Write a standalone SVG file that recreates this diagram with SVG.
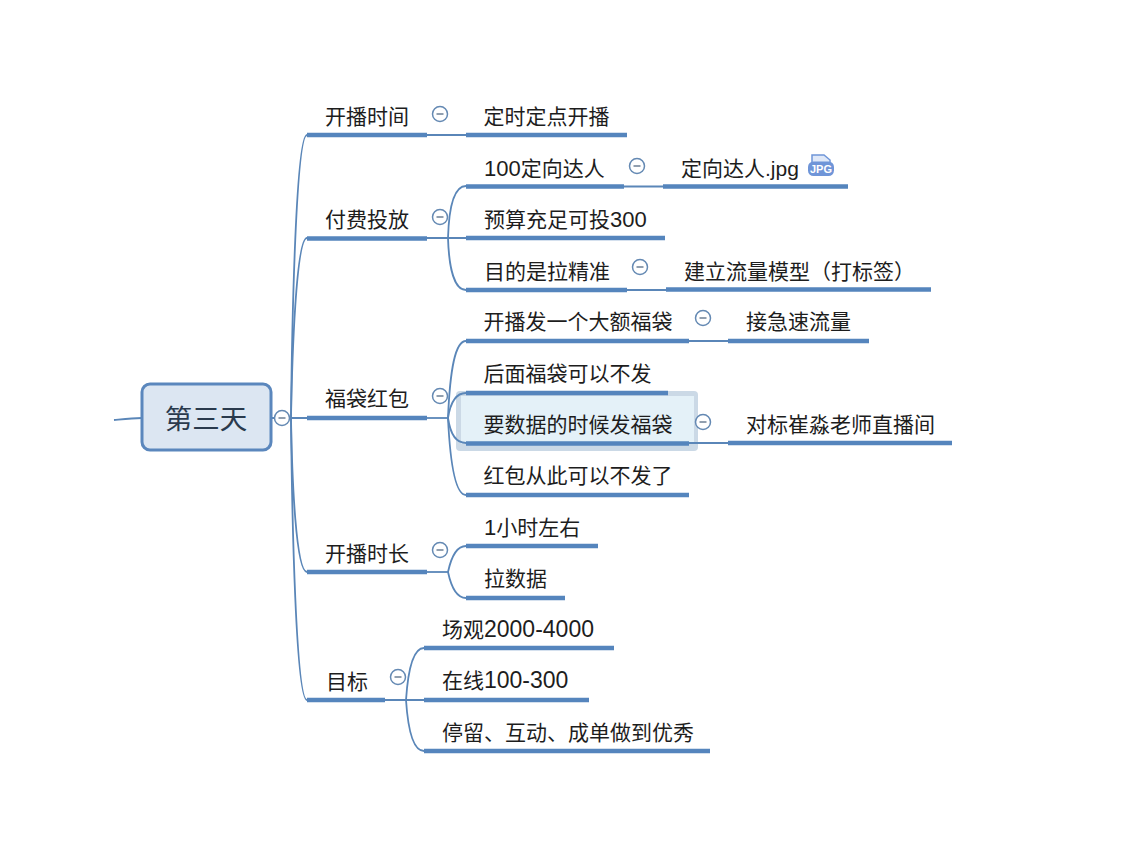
<svg xmlns="http://www.w3.org/2000/svg" width="1142" height="845" viewBox="0 0 1142 845">
<style>
text{font-family:"Liberation Sans","Noto Sans CJK SC",sans-serif;font-size:21px;fill:#1d1d1d}
.bar{stroke:#5585bd;stroke-width:4.500;fill:none}
.link{stroke:#5a86b8;stroke-width:1.800;fill:none}
.fold circle{fill:#fff;stroke:#6489b3;stroke-width:1.500}
.fold path{stroke:#6d7f94;stroke-width:1.500;fill:none}
.num{font-size:22px}
.wide{font-size:23px}
</style>
<defs>
<g id="fold" class="fold"><circle r="7.500"/><path d="M-3.500 0H3.500"/></g>
</defs>
<rect width="1142" height="845" fill="#fff"/>
<g id="selection">
<rect x="456" y="391" width="242" height="60" rx="4" fill="#cbd9e6"/>
<rect x="461" y="396" width="233" height="48" fill="#e4f1f8"/>
</g>
<g id="connectors">
<path class="link" d="M114 420C124 419 132 418 142 418"/>
<path class="link" d="M272 418H307"/>
<path class="link" d="M291 418C292 320 296 135 307 135"/>
<path class="link" d="M291 418C292 360 296 238 307 238"/>
<path class="link" d="M291 418C292 480 296 572 307 572"/>
<path class="link" d="M291 418C292 520 296 700 307 700"/>
<path class="link" d="M427 135H466"/>
<path class="link" d="M427 238H466"/>
<path class="link" d="M448 238C449 205 455 186 466 186"/>
<path class="link" d="M448 238C449 270 455 290 466 290"/>
<path class="link" d="M624 186.500H663"/>
<path class="link" d="M627 290H666"/>
<path class="link" d="M427 418H448"/>
<path class="link" d="M448 418C450 370 455 341 466 341"/>
<path class="link" d="M448 418C450 405 455 393 466 393"/>
<path class="link" d="M448 418C450 432 455 443 466 443"/>
<path class="link" d="M448 418C450 460 455 495 466 495"/>
<path class="link" d="M689 341H728"/>
<path class="link" d="M689 443H728"/>
<path class="link" d="M427 572H448"/>
<path class="link" d="M448 572C451 558 456 546 466 546"/>
<path class="link" d="M448 572C451 586 456 598 466 598"/>
<path class="link" d="M385 700H424"/>
<path class="link" d="M406 700C408 670 413 648 424 648"/>
<path class="link" d="M406 700C408 730 413 751 424 751"/>
</g>
<g id="root">
<rect x="142" y="384" width="129" height="66" rx="8" fill="#dce6f2" stroke="#5b87bd" stroke-width="3"/>
<text x="206" y="429" text-anchor="middle" style="font-size:27.500px;fill:#2a3a4d">第三天</text>
<use href="#fold" x="282" y="418"/>
</g>
<g id="n-time"><text x="325" y="124">开播时间</text><path class="bar" d="M307 135H427"/><use href="#fold" x="440" y="114"/></g>
<g id="n-time-1"><text x="483.500" y="124">定时定点开播</text><path class="bar" d="M466 135H627"/></g>
<g id="n-paid"><text x="325" y="227">付费投放</text><path class="bar" d="M307 238.500H427"/><use href="#fold" x="440" y="217"/></g>
<g id="n-paid-1"><text x="484" y="176"><tspan class="num">100</tspan>定向达人</text><path class="bar" d="M466 186.500H624"/><use href="#fold" x="637" y="166"/></g>
<g id="n-paid-1-1"><text x="681" y="176">定向达人.jpg</text><path class="bar" d="M663 186.500H848"/>
<g id="jpg-icon"><path d="M812 155H824L830 160V164H812Z" fill="#dfe8f8" stroke="#6f95d8" stroke-width="1.500"/><rect x="808" y="161.500" width="26" height="14.500" rx="5.500" fill="#6f95d8"/><text x="821" y="173" text-anchor="middle" style="font-size:11px;font-weight:700;fill:#fff">JPG</text></g></g>
<g id="n-paid-2"><text x="484" y="227">预算充足可投<tspan class="num">300</tspan></text><path class="bar" d="M466 238H665"/></g>
<g id="n-paid-3"><text x="484" y="279">目的是拉精准</text><path class="bar" d="M466 290H627"/><use href="#fold" x="640" y="267"/></g>
<g id="n-paid-3-1"><text x="684" y="279">建立流量模型（打标签）</text><path class="bar" d="M666 289.500H931"/></g>
<g id="n-bag"><text x="325" y="406">福袋红包</text><path class="bar" d="M307 418H427"/><use href="#fold" x="440" y="396"/></g>
<g id="n-bag-1"><text x="483.500" y="329">开播发一个大额福袋</text><path class="bar" d="M466 341H689"/><use href="#fold" x="703" y="318"/></g>
<g id="n-bag-1-1"><text x="746" y="329">接急速流量</text><path class="bar" d="M728 341H869"/></g>
<g id="n-bag-2"><text x="483.500" y="381">后面福袋可以不发</text><path class="bar" d="M466 393H668"/></g>
<g id="n-bag-3"><text x="483.500" y="432">要数据的时候发福袋</text><path class="bar" d="M466 443.500H689"/><use href="#fold" x="703" y="422"/></g>
<g id="n-bag-3-1"><text x="746" y="432">对标崔淼老师直播间</text><path class="bar" d="M728 443H952"/></g>
<g id="n-bag-4"><text x="483.500" y="483">红包从此可以不发了</text><path class="bar" d="M466 495H689"/></g>
<g id="n-length"><text x="325" y="561">开播时长</text><path class="bar" d="M307 572H427"/><use href="#fold" x="440" y="550"/></g>
<g id="n-length-1"><text x="484" y="534.500"><tspan class="num">1</tspan>小时左右</text><path class="bar" d="M466 546H598"/></g>
<g id="n-length-2"><text x="484" y="586">拉数据</text><path class="bar" d="M466 598H565"/></g>
<g id="n-goal"><text x="326" y="688.500">目标</text><path class="bar" d="M307 700H385"/><use href="#fold" x="398" y="677"/></g>
<g id="n-goal-1"><text x="442" y="636.500">场观<tspan class="wide">2000-4000</tspan></text><path class="bar" d="M424 648H614"/></g>
<g id="n-goal-2"><text x="442" y="688">在线<tspan class="wide">100-300</tspan></text><path class="bar" d="M424 700H589"/></g>
<g id="n-goal-3"><text x="442" y="739.500">停留、互动、成单做到优秀</text><path class="bar" d="M424 751H710"/></g>
</svg>
